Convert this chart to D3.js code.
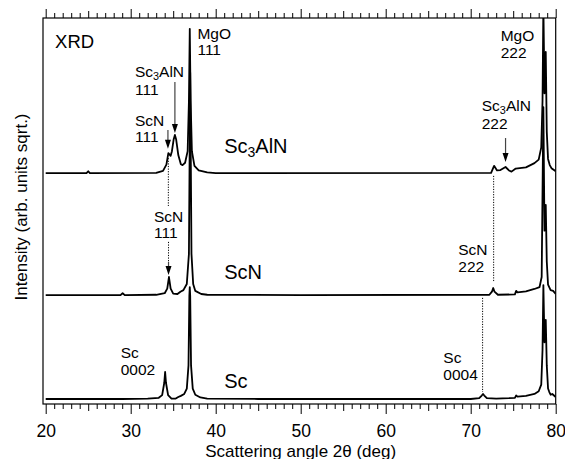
<!DOCTYPE html>
<html>
<head>
<meta charset="utf-8">
<script src="https://cdn.jsdelivr.net/npm/d3@7"></script>
<style>
  body { margin: 0; background: #fff; }
  text { font-family: "Liberation Sans", Arial, Helvetica, sans-serif; fill: #000; }
</style>
</head>
<body>
<svg id="chart" width="565" height="459"></svg>
<script>
// ---- data (2theta in deg, intensity in arb. units, sqrt scale) ----
const angleSc = [20, 25, 29, 32, 33.3, 33.7, 33.95, 34.05, 34.15, 34.4, 34.8, 35.3, 35.6, 35.9, 36.3, 36.6, 36.8, 36.9, 36.95, 37.0, 37.1, 37.3, 37.6, 38.2, 39, 45, 60, 70, 71.0, 71.3, 71.45, 71.6, 71.9, 73, 74.5, 75.2, 75.35, 75.5, 76.5, 77.5, 78.0, 78.3, 78.45, 78.55, 78.68, 78.83, 78.95, 79.1, 79.25, 79.4, 79.6, 80]
const intSc = [1.3, 1.3, 1.3, 1.4, 1.6, 2.3, 5.5, 8.3, 5.5, 2.3, 1.4, 1.4, 1.8, 2.1, 2.6, 4.0, 10, 28, 30.3, 28, 10, 4.0, 2.4, 1.7, 1.4, 1.3, 1.3, 1.3, 1.5, 2.2, 2.6, 2.2, 1.5, 1.4, 1.5, 1.6, 2.2, 1.9, 2.1, 2.6, 3.3, 5, 14, 30.8, 16, 21.8, 10, 4, 3.1, 2.4, 2.6, 1.8]

const angleScN = [20, 28.8, 29.05, 29.3, 33, 34.0, 34.3, 34.5, 34.7, 35.0, 35.5, 35.85, 36.2, 36.6, 36.85, 37.0, 37.15, 37.35, 37.6, 38.3, 39, 50, 72.2, 72.5, 72.65, 72.8, 73.2, 75.2, 75.35, 75.5, 76.5, 77.5, 78.1, 78.35, 78.55, 78.68, 78.83, 78.95, 79.1, 79.4, 79.7, 80]
const intScN = [1.3, 1.3, 1.8, 1.3, 1.4, 1.8, 3.0, 6.0, 3.0, 1.7, 1.6, 2.2, 2.6, 4.2, 12, 59, 12, 4.2, 2.4, 1.6, 1.4, 1.3, 1.4, 2.2, 3.15, 2.2, 1.4, 1.5, 2.4, 2.0, 2.3, 2.9, 3.4, 6, 50, 18, 24.7, 10, 4, 2.6, 2.4, 1.6]

const angleSc3AlN = [20, 24.8, 25.0, 25.2, 33, 33.8, 34.2, 34.43, 34.7, 34.85, 35.05, 35.2, 35.35, 35.6, 35.9, 36.1, 36.4, 36.7, 36.85, 36.95, 37.05, 37.2, 37.5, 38, 39, 40, 72.4, 72.75, 73.1, 73.5, 74.1, 74.5, 74.8, 75.3, 76.5, 77.5, 78.0, 78.3, 78.45, 78.55, 78.68, 78.83, 78.95, 79.1, 79.3, 79.5, 80]
const intSc3AlN = [1.3, 1.3, 1.8, 1.3, 1.4, 1.9, 3.5, 6.5, 5.8, 7, 10, 11.2, 10, 6, 3.6, 3.4, 4.0, 7, 20, 38.7, 20, 7, 3.2, 2.0, 1.5, 1.3, 1.4, 3.2, 2.0, 2.1, 2.9, 2.0, 1.7, 2.5, 2.8, 3.9, 4.8, 8, 20, 45, 22, 32.7, 12, 5, 3.4, 2.6, 1.8]

// vertical offsets of the stacked patterns
const traceNames = ['Sc', 'ScN', 'Sc3AlN']
const traceOffsets = [0, 26.9, 58.5]

const majorTicks = [20, 30, 40, 50, 60, 70, 80]
const midTicks = [25, 35, 45, 55, 65, 75]
const minorTicks = d3.range(21, 80).filter(d => d % 5 !== 0)

// annotations: [2theta, intensity from, intensity to]
const dottedLines = [
  [34.43, 63.7, 51.3],
  [34.45, 42.0, 36.8],
  [72.7, 59.1, 31.6],
  [71.4, 27.5, 3.1]
]
const arrows = [
  [35.2, 83.4, 70.2],
  [34.38, 71.0, 66.1],
  [74.1, 68.9, 62.7],
  [34.45, 36.8, 33.4]
]
// [line1, line2, 2theta, intensity of first baseline]
const peakLabels = [
  ['Sc3AlN', '111', 30.5, 84.6],
  ['ScN', '111', 30.5, 72.1],
  ['MgO', '111', 37.85, 94.6],
  ['MgO', '222', 73.53, 94.0],
  ['Sc3AlN', '222', 71.3, 75.9],
  ['ScN', '111', 32.74, 47.2],
  ['ScN', '222', 68.54, 38.6],
  ['Sc', '0002', 28.82, 11.9],
  ['Sc', '0004', 66.78, 10.6]
]
const traceLabels = [
  ['Sc3AlN', 41.0, 65.0],
  ['ScN', 41.0, 32.4],
  ['Sc', 41.0, 4.1]
]

// ---- layout ----
const frameLeft = 43, frameTop = 18, frameBottom = 404
const labelSize = 15.5

const svg = d3.select('#chart')

const x = d3.scaleLinear().domain([20, 80]).range([45.7, 555.7])
const y = d3.scaleLinear().domain([0, 100]).range([frameBottom, frameTop])

svg.append('defs').append('clipPath').attr('id', 'plot-clip')
  .append('rect')
  .attr('x', frameLeft).attr('y', frameTop)
  .attr('width', x(80) - frameLeft).attr('height', frameBottom - frameTop)

// axes (ticks point outward, bottom and top)
function tickAxis(axisFn, yPos, values, size, withLabels) {
  const ax = axisFn(x).tickValues(values).tickSizeInner(size).tickSizeOuter(0)
    .tickFormat(withLabels ? d3.format('d') : '')
  const g = svg.append('g').attr('transform', 'translate(0,' + yPos + ')').call(ax)
  g.select('.domain').remove()
  g.selectAll('line').attr('stroke', '#000').attr('stroke-width', 1)
  return g
}

const bottomMajor = tickAxis(d3.axisBottom, frameBottom, majorTicks, 10, true)
bottomMajor.selectAll('text')
  .attr('y', 33).attr('dy', 0)
  .style('font-size', '17.5px')
  .style('font-family', '"Liberation Sans", Arial, Helvetica, sans-serif')
  .attr('fill', '#000')
tickAxis(d3.axisBottom, frameBottom, midTicks, 7, false)
tickAxis(d3.axisBottom, frameBottom, minorTicks, 5, false)
tickAxis(d3.axisTop, frameTop, majorTicks, 9, false)
tickAxis(d3.axisTop, frameTop, midTicks, 7, false)
tickAxis(d3.axisTop, frameTop, minorTicks, 5, false)

// frame
svg.append('rect')
  .attr('x', frameLeft).attr('y', frameTop)
  .attr('width', x(80) - frameLeft).attr('height', frameBottom - frameTop)
  .attr('fill', 'none').attr('stroke', '#000').attr('stroke-width', 1.2)

// axis titles
svg.append('text')
  .attr('x', (x(20) + x(80)) / 2).attr('y', 456.5)
  .attr('text-anchor', 'middle').style('font-size', '17px')
  .text('Scattering angle 2θ (deg)')

svg.append('text')
  .attr('transform', 'translate(27,' + ((frameTop + frameBottom) / 2 - 4) + ') rotate(-90)')
  .attr('text-anchor', 'middle').style('font-size', '17px')
  .text('Intensity (arb. units sqrt.)')

// patterns
const traces = [
  angleSc.map((a, i) => [a, intSc[i]]),
  angleScN.map((a, i) => [a, intScN[i]]),
  angleSc3AlN.map((a, i) => [a, intSc3AlN[i]])
]

const plot = svg.append('g').attr('clip-path', 'url(#plot-clip)')

traces.forEach((pts, k) => {
  const line = d3.line()
    .x(d => x(d[0]))
    .y(d => y(d[1] + traceOffsets[k]))
  plot.append('path')
    .datum(pts)
    .attr('class', 'trace-' + traceNames[k])
    .attr('fill', 'none')
    .attr('stroke', '#000')
    .attr('stroke-width', 1.8)
    .attr('stroke-linejoin', 'round')
    .attr('d', line)
})

// dotted guide lines
dottedLines.forEach(d => {
  svg.append('line')
    .attr('x1', x(d[0])).attr('x2', x(d[0]))
    .attr('y1', y(d[1])).attr('y2', y(d[2]))
    .attr('stroke', '#000').attr('stroke-width', 1)
    .attr('stroke-dasharray', '1.2,1.4')
})

// arrows
arrows.forEach(d => {
  const ax = x(d[0]), y0 = y(d[1]), tip = y(d[2])
  svg.append('line')
    .attr('x1', ax).attr('x2', ax).attr('y1', y0).attr('y2', tip - 6)
    .attr('stroke', '#444').attr('stroke-width', 1.2)
  svg.append('path')
    .attr('d', 'M' + (ax - 3) + ',' + (tip - 9) + 'L' + (ax + 3) + ',' + (tip - 9) + 'L' + ax + ',' + tip + 'Z')
    .attr('fill', '#000')
})

// text helper, renders "Sc3AlN" with subscript 3
function addName(sel, name, size) {
  if (name === 'Sc3AlN') {
    sel.append('tspan').text('Sc')
    sel.append('tspan').attr('dy', size * 0.18).style('font-size', (size * 0.7) + 'px').text('3')
    sel.append('tspan').attr('dy', -size * 0.18).text('AlN')
  } else {
    sel.append('tspan').text(name)
  }
}

peakLabels.forEach(d => {
  const gap = d[0] === 'Sc3AlN' ? 18 : 16.5
  const t1 = svg.append('text').attr('x', x(d[2])).attr('y', y(d[3])).style('font-size', labelSize + 'px')
  addName(t1, d[0], labelSize)
  svg.append('text').attr('x', x(d[2])).attr('y', y(d[3]) + gap).style('font-size', labelSize + 'px').text(d[1])
})

traceLabels.forEach(d => {
  const t = svg.append('text').attr('x', x(d[1])).attr('y', y(d[2])).style('font-size', '20px')
  addName(t, d[0], 20)
})

svg.append('text').attr('x', x(21.1)).attr('y', y(92.2)).style('font-size', '18.5px').text('XRD')
</script>
</body>
</html>
